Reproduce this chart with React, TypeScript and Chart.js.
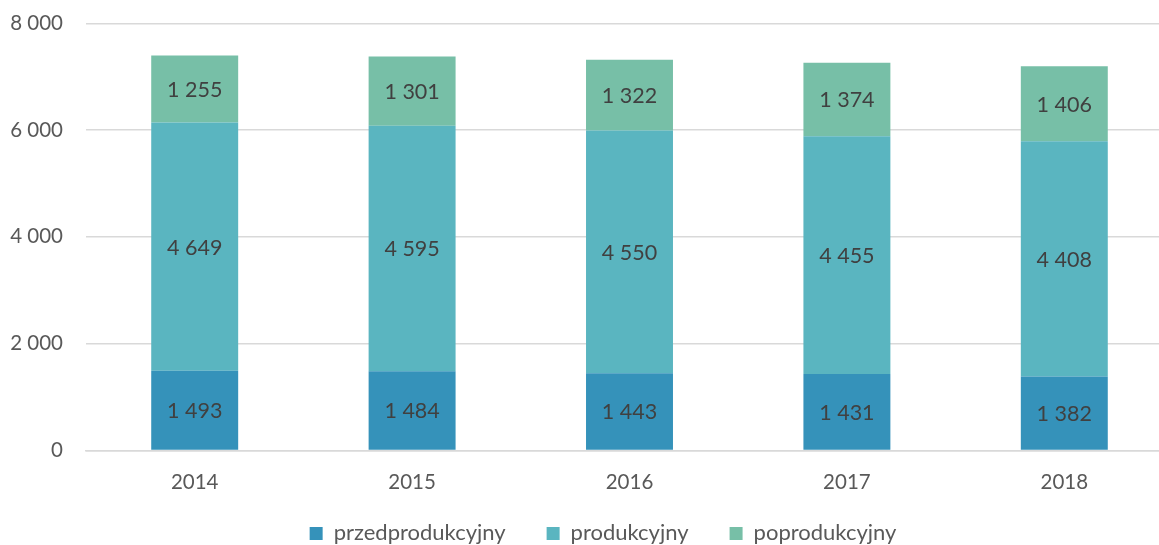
import React, { useEffect, useRef } from "react";
import { Chart, registerables } from "chart.js";

Chart.register(...registerables);

const categories = ["2014", "2015", "2016", "2017", "2018"];
const przedprodukcyjny = [1493, 1484, 1443, 1431, 1382];
const produkcyjny = [4649, 4595, 4550, 4455, 4408];
const poprodukcyjny = [1255, 1301, 1322, 1374, 1406];
const yTicks = [0, 2000, 4000, 6000, 8000];

const FONT = "Lato, 'Open Sans', sans-serif";

const fmt = (v: number) => String(Math.round(v)).replace(/\B(?=(\d{3})+(?!\d))/g, " ");

const dataLabels = {
  id: "dataLabels",
  afterDatasetsDraw(chart: any) {
    const ctx = chart.ctx;
    ctx.save();
    ctx.font = `21.5px ${FONT}`;
    ctx.fillStyle = "#404040";
    ctx.textAlign = "center";
    ctx.textBaseline = "middle";
    chart.data.datasets.forEach((ds: any, i: number) => {
      const meta = chart.getDatasetMeta(i);
      meta.data.forEach((bar: any, j: number) => {
        const y = (bar.y + bar.base) / 2;
        ctx.fillText(fmt(ds.data[j]), bar.x, y + 1);
      });
    });
    ctx.restore();
  },
};

const legendShift = {
  id: "legendShift",
  afterLayout(chart: any) {
    const lg = chart.legend;
    if (!lg) return;
    const dx = 16.5;
    const dy = -33.6;
    lg.left += dx;
    lg.right += dx;
    lg.top += dy;
    lg.bottom += dy;
  },
};

export default function App() {
  const ref = useRef<HTMLCanvasElement>(null);
  useEffect(() => {
    document.body.style.margin = "0";
    document.body.style.overflow = "hidden";
    const chart = new Chart(ref.current!, {
      type: "bar",
      data: {
        labels: categories,
        datasets: [
          { label: "przedprodukcyjny", data: przedprodukcyjny, backgroundColor: "#3592BA" },
          { label: "produkcyjny", data: produkcyjny, backgroundColor: "#5AB5C0" },
          { label: "poprodukcyjny", data: poprodukcyjny, backgroundColor: "#77BFA7" },
        ],
      },
      options: {
        animation: false,
        responsive: false,
        devicePixelRatio: 1,
        layout: { padding: { left: 0, right: 7, top: 0, bottom: 0 } },
        datasets: { bar: { categoryPercentage: 1, barPercentage: 0.4 } },
        scales: {
          x: {
            stacked: true,
            grid: { display: false, drawTicks: false },
            border: { color: "#D9D9D9", width: 1.5 },
            ticks: { color: "#595959", font: { family: FONT, size: 20.5 }, padding: 20 },
          },
          y: {
            stacked: true,
            min: 0,
            max: 8000,
            afterFit: (s: any) => { s.width = 86; },
            afterBuildTicks: (s: any) => { s.ticks = yTicks.map((v) => ({ value: v })); },
            grid: { color: "#D9D9D9", lineWidth: 1.5, drawTicks: false },
            border: { display: false },
            ticks: {
              color: "#595959",
              font: { family: FONT, size: 20.5 },
              padding: 23,
              callback: (v: any) => fmt(Number(v)),
            },
          },
        },
        plugins: {
          legend: {
            position: "bottom",
            labels: {
              color: "#595959",
              font: { family: FONT, size: 22 },
              boxWidth: 13,
              boxHeight: 13,
              padding: 41,
            },
          },
          tooltip: { enabled: false },
        },
      },
      plugins: [dataLabels, legendShift],
    });
    return () => chart.destroy();
  }, []);
  return (
    <div style={{ position: "fixed", left: 0, top: 0, width: 1159, height: 545, overflow: "hidden" }}>
      <canvas ref={ref} width={1180} height={600} style={{ display: "block", marginTop: -12 }} />
    </div>
  );
}
